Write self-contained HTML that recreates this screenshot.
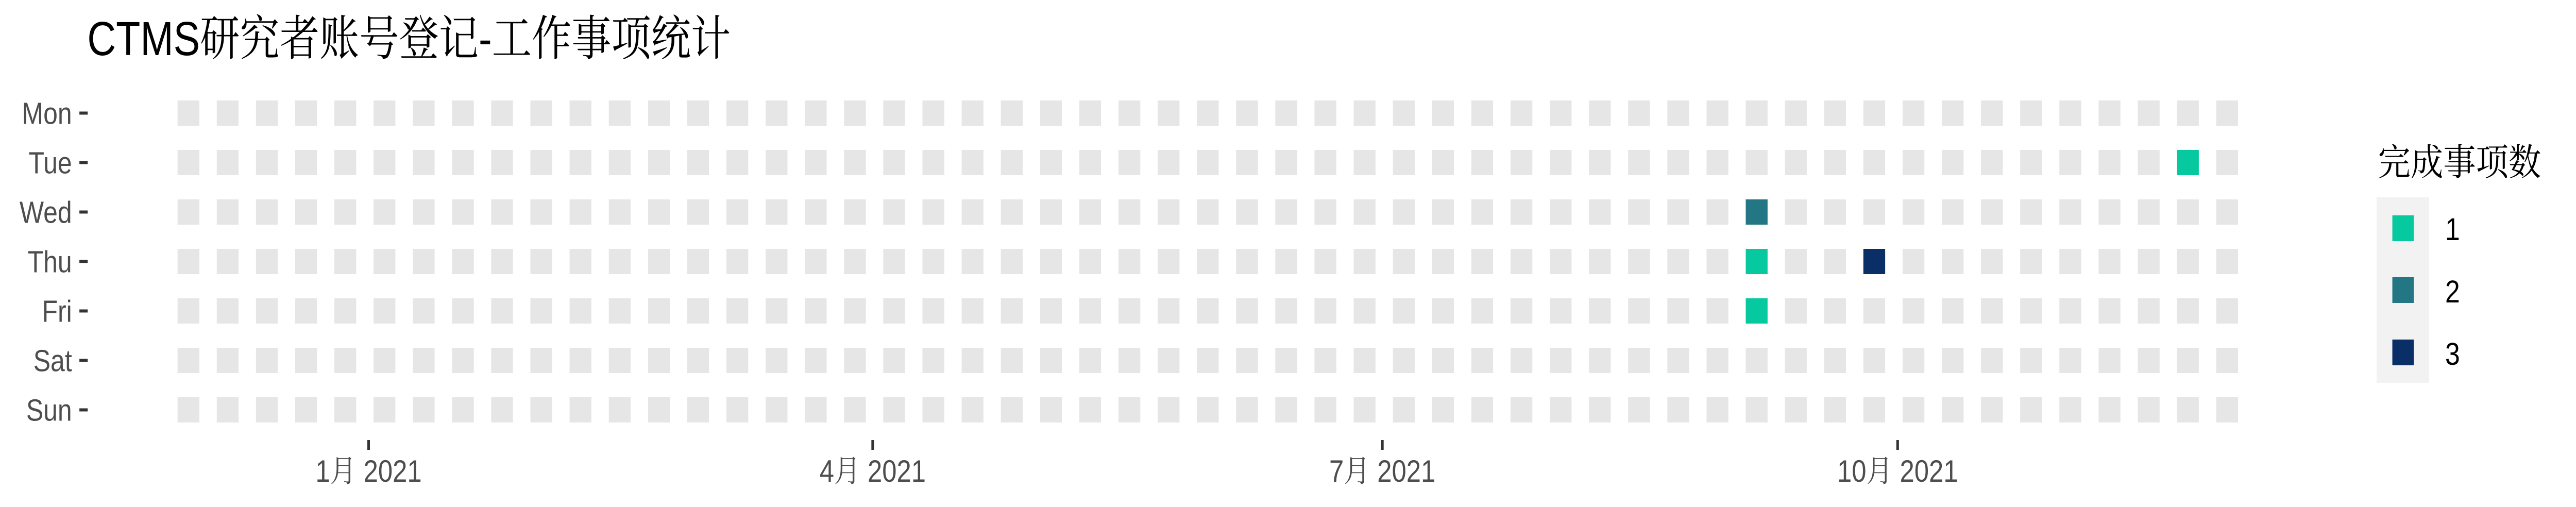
<!DOCTYPE html>
<html><head><meta charset="utf-8"><style>
html,body{margin:0;padding:0;background:#fff;width:100%;height:100%;overflow:hidden;}
svg{display:block;width:100vw;height:100vh;}
</style></head><body>
<svg id="chart" viewBox="0 0 5905 984" preserveAspectRatio="none" xmlns="http://www.w3.org/2000/svg">
<rect width="5905" height="984" fill="#ffffff"/>
<text x="200" y="107" font-family="'Liberation Sans','Noto Serif CJK SC',serif" font-size="93" fill="#000" textLength="1475" lengthAdjust="spacingAndGlyphs">CTMS研究者账号登记-工作事项统计</text>
<g id="tiles"></g>
<g id="yaxis"></g>
<g id="xaxis"></g>
<g>
<text x="5451" y="340" font-family="'Liberation Sans','Noto Serif CJK SC',serif" font-size="72" fill="#000" textLength="374" lengthAdjust="spacingAndGlyphs">完成事项数</text>
<rect x="5448" y="383" width="120" height="360" fill="#f2f2f2"/>
<rect x="5484" y="418" width="49" height="50" fill="#07c9a0"/>
<rect x="5484" y="538" width="49" height="50" fill="#237785"/>
<rect x="5484" y="659" width="49" height="50" fill="#0a2f66"/>
<text x="5605" y="466" font-family="'Liberation Sans',sans-serif" font-size="61" fill="#000">1</text>
<text x="5605" y="587" font-family="'Liberation Sans',sans-serif" font-size="61" fill="#000">2</text>
<text x="5605" y="708" font-family="'Liberation Sans',sans-serif" font-size="61" fill="#000">3</text>
</g>
</svg>
<script>
const dayLabels = ["Mon","Tue","Wed","Thu","Fri","Sat","Sun"];
const weekCount = 53;
const eventWeeks = [51, 40, 40, 43, 40];
const eventDays = [1, 2, 3, 3, 4];
const eventCounts = [1, 2, 1, 3, 1];
const tickLabels = ["1月 2021","4月 2021","7月 2021","10月 2021"];
const tickDayOffsets = [0, 90, 181, 273];

const NS = "http://www.w3.org/2000/svg";
const colLeft0 = 407, colPitch = 89.87, tileW = 50;
const rowTop0 = 195, rowPitch = 96, tileH = 49;
const pxPerDay = colPitch / 7;
const jan1X = 845;
function xCol(w){ return colLeft0 + w*colPitch; }
function yRow(d){ return rowTop0 + d*rowPitch; }
function xDate(off){ return jan1X + off*pxPerDay; }
const colors = {1:"#07c9a0",2:"#237785",3:"#0a2f66"};

const tiles = document.getElementById("tiles");
for (let w=0; w<weekCount; w++){
  for (let d=0; d<dayLabels.length; d++){
    const r = document.createElementNS(NS,"rect");
    r.setAttribute("x", xCol(w)); r.setAttribute("y", yRow(d));
    r.setAttribute("width", tileW); r.setAttribute("height", tileH);
    r.setAttribute("fill", "#e6e6e6");
    
    
    tiles.appendChild(r);
  }
}
for (let i=0; i<eventWeeks.length; i++){
  const r = document.createElementNS(NS,"rect");
  r.setAttribute("x", xCol(eventWeeks[i])); r.setAttribute("y", yRow(eventDays[i]));
  r.setAttribute("width", tileW); r.setAttribute("height", tileH);
  r.setAttribute("fill", colors[eventCounts[i]]);
  
  
  tiles.appendChild(r);
}
const yaxis = document.getElementById("yaxis");
dayLabels.forEach((lab,d)=>{
  const cy = yRow(d) + tileH/2;
  const t = document.createElementNS(NS,"text");
  t.setAttribute("x", 165); t.setAttribute("y", cy + 21);
  t.setAttribute("text-anchor","end");
  t.setAttribute("font-family","'Liberation Sans',sans-serif");
  t.setAttribute("font-size","59"); t.setAttribute("fill","#4d4d4d");
  t.textContent = lab;
  
  
  yaxis.appendChild(t);
  const tk = document.createElementNS(NS,"rect");
  tk.setAttribute("x", 182); tk.setAttribute("y", cy - 3);
  tk.setAttribute("width", 19); tk.setAttribute("height", 6);
  tk.setAttribute("fill", "#333333");
  
  
  yaxis.appendChild(tk);
});
const xaxis = document.getElementById("xaxis");
tickLabels.forEach((lab,i)=>{
  const x = xDate(tickDayOffsets[i]);
  const tk = document.createElementNS(NS,"rect");
  tk.setAttribute("x", x - 3); tk.setAttribute("y", 854);
  tk.setAttribute("width", 6); tk.setAttribute("height", 19);
  tk.setAttribute("fill", "#333333");
  
  
  xaxis.appendChild(tk);
  const t = document.createElementNS(NS,"text");
  t.setAttribute("x", x); t.setAttribute("y", 935);
  t.setAttribute("text-anchor","middle");
  t.setAttribute("font-family","'Liberation Sans','Noto Serif CJK SC',serif");
  t.setAttribute("font-size","60"); t.setAttribute("fill","#4d4d4d");
  t.textContent = lab;
  
  
  xaxis.appendChild(t);
});
</script>
</body></html>
